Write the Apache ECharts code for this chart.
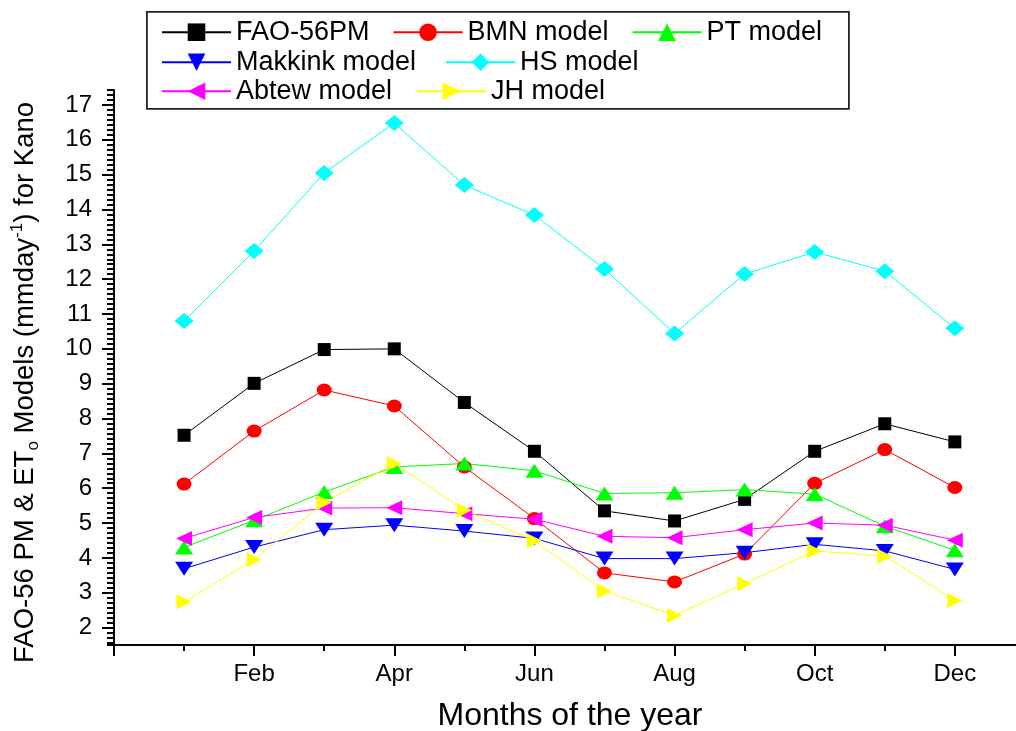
<!DOCTYPE html>
<html>
<head>
<meta charset="utf-8">
<script src="https://cdn.jsdelivr.net/npm/echarts@6/dist/echarts.min.js"></script>
<style>
html,body{margin:0;padding:0;background:#fff;}
#chart{width:1016px;height:731px;}
</style>
</head>
<body>
<div id="chart"></div>
<script>
// ---- data ----
const months = [1, 2, 3, 4, 5, 6, 7, 8, 9, 10, 11, 12];
const monthNames = ['Jan', 'Feb', 'Mar', 'Apr', 'May', 'Jun', 'Jul', 'Aug', 'Sep', 'Oct', 'Nov', 'Dec'];
const fao56pm  = [7.52, 9.01, 9.98, 10.00, 8.46, 7.06, 5.35, 5.06, 5.68, 7.06, 7.85, 7.33];
const bmnModel = [6.12, 7.64, 8.82, 8.36, 6.61, 5.13, 3.57, 3.31, 4.11, 6.14, 7.11, 6.02];
const ptModel  = [4.30, 5.08, 5.89, 6.61, 6.71, 6.50, 5.85, 5.87, 5.96, 5.83, 4.91, 4.22];
const makkinkModel = [3.69, 4.31, 4.81, 4.94, 4.77, 4.56, 3.98, 3.98, 4.15, 4.39, 4.20, 3.67];
const hsModel  = [10.80, 12.81, 15.05, 16.48, 14.70, 13.84, 12.29, 10.44, 12.15, 12.78, 12.23, 10.59];
const abtewModel = [4.56, 5.16, 5.43, 5.44, 5.27, 5.11, 4.62, 4.58, 4.81, 5.00, 4.94, 4.51];
const jhModel  = [2.74, 3.95, 5.59, 6.71, 5.37, 4.49, 3.05, 2.35, 3.26, 4.20, 4.05, 2.78];
const xMajorTicks = [0, 2, 4, 6, 8, 10, 12];
const xLabelTicks = [2, 4, 6, 8, 10, 12];
const yTickLabels = [2, 3, 4, 5, 6, 7, 8, 9, 10, 11, 12, 13, 14, 15, 16, 17];

const FONT = 'Liberation Sans, Arial, sans-serif';
const pairs = arr => months.map((m, i) => [m, arr[i]]);

function mkSeries(name, arr, color, symbol, size, rotate) {
  return {
    name: name, type: 'line', data: pairs(arr),
    xAxisIndex: 0, yAxisIndex: 0,
    symbol: symbol, symbolSize: size, symbolRotate: rotate || 0,
    showSymbol: true,
    lineStyle: { color: color, width: 1 },
    itemStyle: { color: color },
    emphasis: { disabled: true },
    z: 3
  };
}

const legendCommon = {
  orient: 'horizontal', padding: 0, itemWidth: 69, itemHeight: 22,
  textStyle: { fontSize: 27, fontFamily: FONT, color: '#000', lineHeight: 22 },
  selectedMode: false, z: 10
};

const option = {
  animation: false,
  backgroundColor: '#fff',
  grid: { left: 114, right: -4, top: 90, bottom: 86, containLabel: false, outerBoundsMode: 'none' },
  graphic: [{
    type: 'rect', left: 146, top: 11, z: 5,
    shape: { width: 702, height: 97 },
    style: { fill: '#fff', stroke: '#222', lineWidth: 1.8 }
  }],
  legend: [
    Object.assign({}, legendCommon, { data: ['FAO-56PM', 'BMN model', 'PT model'], left: 161, top: 18.7, itemGap: 23 }),
    Object.assign({}, legendCommon, { data: ['Makkink model', 'HS model'], left: 161, top: 48.7, itemGap: 29 }),
    Object.assign({}, legendCommon, { data: ['Abtew model', 'JH model'], left: 161, top: 77.7, itemGap: 24 })
  ],
  xAxis: [
    {
      type: 'value', min: 0, max: 12.93, interval: 2, position: 'bottom',
      axisLine: { show: true, onZero: false, lineStyle: { color: '#000', width: 2 } },
      axisTick: { show: true, length: 11, lineStyle: { color: '#000', width: 2 }, customValues: xMajorTicks },
      axisLabel: {
        show: true, customValues: xLabelTicks, margin: 17, fontSize: 24, fontFamily: FONT, color: '#000',
        formatter: function (v) {
          return (Number.isInteger(v) && v >= 2 && v % 2 === 0) ? monthNames[v - 1] : '';
        }
      },
      splitLine: { show: false },
      name: 'Months of the year', nameLocation: 'middle', nameGap: 55,
      nameTextStyle: { fontSize: 32, fontFamily: FONT, color: '#000', padding: [0, 0, 0, 6] }
    },
    {
      type: 'value', min: 0, max: 12.93, interval: 1, position: 'bottom',
      axisLine: { show: false, onZero: false },
      axisTick: { show: true, length: 6, lineStyle: { color: '#000', width: 2 } },
      axisLabel: { show: false },
      splitLine: { show: false }
    }
  ],
  yAxis: [
    {
      type: 'value', min: 1.5, max: 17.43, minInterval: 1, maxInterval: 1, position: 'left',
      axisLine: { show: true, onZero: false, lineStyle: { color: '#000', width: 2 } },
      axisTick: { show: true, length: 12, lineStyle: { color: '#000', width: 2 }, customValues: yTickLabels },
      axisLabel: { show: true, customValues: yTickLabels, margin: 22, fontSize: 24, fontFamily: FONT, color: '#000' },
      splitLine: { show: false },
      name: '{a|FAO-56 PM & ET}{sub|o}{a| Models (mmday}{sup|-1}{a|) for Kano}',
      nameLocation: 'middle', nameRotate: 90, nameGap: 72,
      nameTextStyle: {
        fontSize: 27.5, fontFamily: FONT, color: '#000', padding: [0, 30, 0, 0],
        rich: {
          a: { fontSize: 27.5, fontFamily: FONT, color: '#000', lineHeight: 33, verticalAlign: 'middle' },
          sub: { fontSize: 17, fontFamily: FONT, color: '#000', lineHeight: 17, verticalAlign: 'bottom' },
          sup: { fontSize: 17, fontFamily: FONT, color: '#000', lineHeight: 17, verticalAlign: 'top' }
        }
      }
    },
    {
      type: 'value', min: 1.5, max: 17.43, minInterval: 1 / 7, maxInterval: 1 / 7, position: 'left',
      axisLine: { show: false, onZero: false },
      axisTick: { show: true, length: 7, lineStyle: { color: '#000', width: 2 } },
      axisLabel: { show: false },
      splitLine: { show: false }
    }
  ],
  series: [
    mkSeries('FAO-56PM', fao56pm, '#000000', 'rect', [13, 13], 0),
    mkSeries('BMN model', bmnModel, '#ff0000', 'circle', [15, 13], 0),
    mkSeries('PT model', ptModel, '#00ff00', 'triangle', [18, 14], 0),
    mkSeries('Makkink model', makkinkModel, '#0000ff', 'triangle', [18, 14], 180),
    mkSeries('HS model', hsModel, '#00ffff', 'diamond', [19, 16], 0),
    mkSeries('Abtew model', abtewModel, '#ff00ff', 'triangle', [15, 16], 90),
    mkSeries('JH model', jhModel, '#ffff00', 'triangle', [15, 15], -90)
  ]
};

const chart = echarts.init(document.getElementById('chart'), null, { renderer: 'canvas' });
chart.setOption(option);
</script>
</body>
</html>
